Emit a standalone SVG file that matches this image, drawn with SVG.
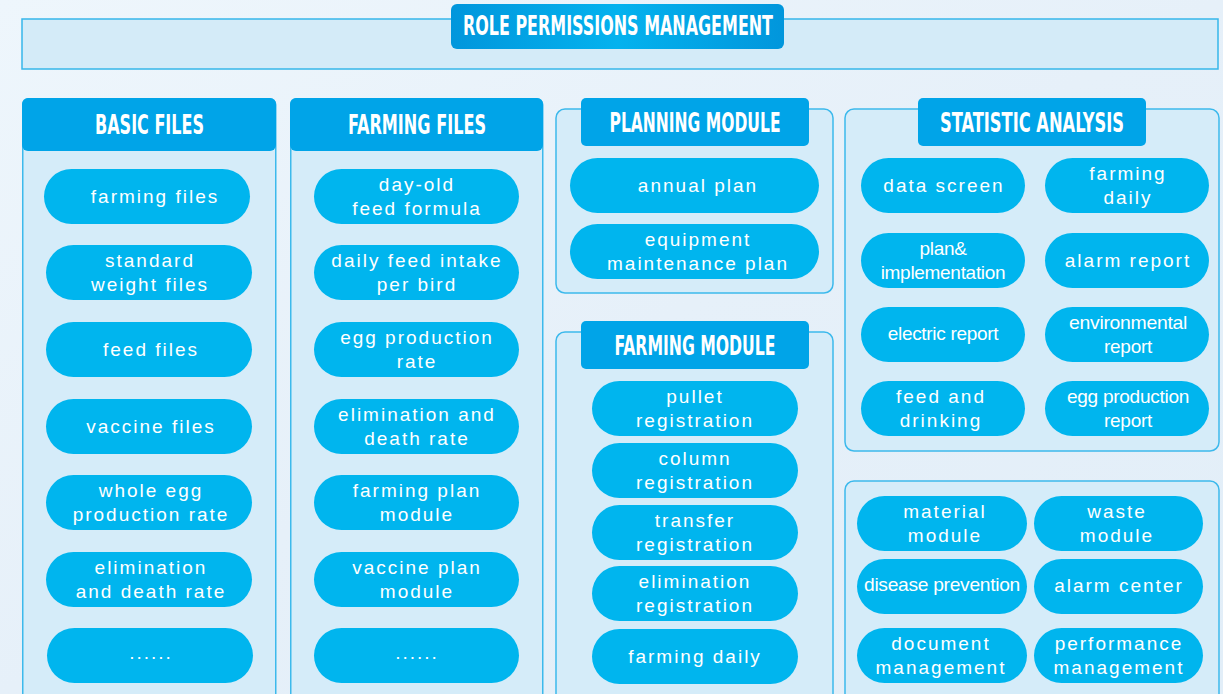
<svg xmlns="http://www.w3.org/2000/svg" width="1223" height="694" viewBox="0 0 1223 694">
<defs>
<linearGradient id="bg" x1="0" y1="0" x2="1" y2="1">
<stop offset="0" stop-color="#eef6fc"/>
<stop offset="0.5" stop-color="#e6f0f9"/>
<stop offset="1" stop-color="#e2eef8"/>
</linearGradient>
<linearGradient id="tabg" x1="0" y1="0" x2="1" y2="0">
<stop offset="0" stop-color="#0196dc"/>
<stop offset="0.5" stop-color="#04b2ee"/>
<stop offset="1" stop-color="#0196dc"/>
</linearGradient>
<style>
.box{fill:#d5ecf9;stroke:#3cb9ec;stroke-width:1.5}
.tab{fill:#00a4e8}
.pill{fill:#00b5ee}
.h{font-family:'DejaVu Sans Condensed','DejaVu Sans',sans-serif;font-weight:bold;font-size:26px;fill:#fff;text-anchor:middle}
.t{font-family:'Liberation Sans',Arial,sans-serif;font-size:19px;fill:#fff;text-anchor:middle;letter-spacing:2px}
.tc{letter-spacing:-0.3px}
</style>
</defs>
<rect x="0" y="0" width="1223" height="694" fill="url(#bg)"/>

<g id="title">
<rect x="22" y="19" width="1196" height="50" fill="#d4ebf8" stroke="#36b7ea" stroke-width="1.5"/>
<rect x="451" y="4" width="333" height="45" rx="6" fill="url(#tabg)"/>
<text class="h" x="618" y="35" font-size="24" textLength="310" lengthAdjust="spacingAndGlyphs">ROLE PERMISSIONS MANAGEMENT</text>
</g>

<g id="basic-files">
<rect class="box" x="22.75" y="98.75" width="253" height="640" rx="6"/>
<rect class="tab" x="22" y="98" width="254" height="53" rx="6"/>
<text class="h" x="149.5" y="134" textLength="109" lengthAdjust="spacingAndGlyphs">BASIC FILES</text>
<g id="bf1"><rect class="pill" x="44" y="169" width="206" height="55" rx="27.5"/><text class="t" x="155" y="202.5">farming files</text></g>
<g id="bf2"><rect class="pill" x="46" y="245" width="206" height="55" rx="27.5"/><text class="t" x="150" y="266.5">standard</text><text class="t" x="150" y="290.5">weight files</text></g>
<g id="bf3"><rect class="pill" x="46" y="322" width="206" height="55" rx="27.5"/><text class="t" x="151" y="355.5">feed files</text></g>
<g id="bf4"><rect class="pill" x="46" y="399" width="206" height="55" rx="27.5"/><text class="t" x="151" y="432.5">vaccine files</text></g>
<g id="bf5"><rect class="pill" x="46" y="475" width="206" height="55" rx="27.5"/><text class="t" x="151" y="496.5">whole egg</text><text class="t" x="151" y="520.5">production rate</text></g>
<g id="bf6"><rect class="pill" x="46" y="552" width="206" height="55" rx="27.5"/><text class="t" x="151" y="573.5">elimination</text><text class="t" x="151" y="597.5">and death rate</text></g>
<g id="bf7"><rect class="pill" x="47" y="628" width="206" height="55" rx="27.5"/><text class="t" x="151" y="659">......</text></g>
</g>

<g id="farming-files">
<rect class="box" x="290.75" y="98.75" width="252" height="640" rx="6"/>
<rect class="tab" x="290" y="98" width="253" height="53" rx="6"/>
<text class="h" x="417" y="134" textLength="138" lengthAdjust="spacingAndGlyphs">FARMING FILES</text>
<g id="ff1"><rect class="pill" x="314" y="169" width="205" height="55" rx="27.5"/><text class="t" x="417" y="190.5">day-old</text><text class="t" x="417" y="214.5">feed formula</text></g>
<g id="ff2"><rect class="pill" x="314" y="245" width="205" height="55" rx="27.5"/><text class="t" x="417" y="266.5">daily feed intake</text><text class="t" x="417" y="290.5">per bird</text></g>
<g id="ff3"><rect class="pill" x="314" y="322" width="205" height="55" rx="27.5"/><text class="t" x="417" y="343.5">egg production</text><text class="t" x="417" y="367.5">rate</text></g>
<g id="ff4"><rect class="pill" x="314" y="399" width="205" height="55" rx="27.5"/><text class="t" x="417" y="420.5">elimination and</text><text class="t" x="417" y="444.5">death rate</text></g>
<g id="ff5"><rect class="pill" x="314" y="475" width="205" height="55" rx="27.5"/><text class="t" x="417" y="496.5">farming plan</text><text class="t" x="417" y="520.5">module</text></g>
<g id="ff6"><rect class="pill" x="314" y="552" width="205" height="55" rx="27.5"/><text class="t" x="417" y="573.5">vaccine plan</text><text class="t" x="417" y="597.5">module</text></g>
<g id="ff7"><rect class="pill" x="314" y="628" width="205" height="55" rx="27.5"/><text class="t" x="417" y="659">......</text></g>
</g>

<g id="planning-module">
<rect class="box" x="556" y="109" width="277" height="184" rx="9"/>
<rect class="tab" x="581" y="98" width="228" height="48" rx="5"/>
<text class="h" x="695" y="132" textLength="171" lengthAdjust="spacingAndGlyphs">PLANNING MODULE</text>
<g id="pm1"><rect class="pill" x="570" y="158" width="249" height="55" rx="27.5"/><text class="t" x="698" y="192">annual plan</text></g>
<g id="pm2"><rect class="pill" x="570" y="224" width="249" height="55" rx="27.5"/><text class="t" x="698" y="245.5">equipment</text><text class="t" x="698" y="269.5">maintenance plan</text></g>
</g>

<g id="farming-module">
<rect class="box" x="556" y="332" width="277" height="420" rx="9"/>
<rect class="tab" x="581" y="321" width="228" height="48" rx="5"/>
<text class="h" x="695" y="355" textLength="161" lengthAdjust="spacingAndGlyphs">FARMING MODULE</text>
<g id="fm1"><rect class="pill" x="592" y="381" width="206" height="55" rx="27.5"/><text class="t" x="695" y="402.5">pullet</text><text class="t" x="695" y="426.5">registration</text></g>
<g id="fm2"><rect class="pill" x="592" y="443" width="206" height="55" rx="27.5"/><text class="t" x="695" y="464.5">column</text><text class="t" x="695" y="488.5">registration</text></g>
<g id="fm3"><rect class="pill" x="592" y="505" width="206" height="55" rx="27.5"/><text class="t" x="695" y="526.5">transfer</text><text class="t" x="695" y="550.5">registration</text></g>
<g id="fm4"><rect class="pill" x="592" y="566" width="206" height="55" rx="27.5"/><text class="t" x="695" y="587.5">elimination</text><text class="t" x="695" y="611.5">registration</text></g>
<g id="fm5"><rect class="pill" x="592" y="629" width="206" height="55" rx="27.5"/><text class="t" x="695" y="662.5">farming daily</text></g>
</g>

<g id="statistic-analysis">
<rect class="box" x="845" y="109" width="374" height="342" rx="9"/>
<rect class="tab" x="918" y="98" width="228" height="48" rx="5"/>
<text class="h" x="1032" y="132" textLength="184" lengthAdjust="spacingAndGlyphs">STATISTIC ANALYSIS</text>
<g id="sa1"><rect class="pill" x="861" y="158" width="164" height="55" rx="27.5"/><text class="t" x="944" y="192">data screen</text></g>
<g id="sa2"><rect class="pill" x="1045" y="158" width="164" height="55" rx="27.5"/><text class="t" x="1128" y="179.5">farming</text><text class="t" x="1128" y="203.5">daily</text></g>
<g id="sa3"><rect class="pill" x="861" y="233" width="164" height="55" rx="27.5"/><text class="t tc" x="943" y="254.5">plan&amp;</text><text class="t tc" x="943" y="278.5">implementation</text></g>
<g id="sa4"><rect class="pill" x="1045" y="233" width="164" height="55" rx="27.5"/><text class="t" x="1128" y="266.5">alarm report</text></g>
<g id="sa5"><rect class="pill" x="861" y="307" width="164" height="55" rx="27.5"/><text class="t tc" x="943" y="340">electric report</text></g>
<g id="sa6"><rect class="pill" x="1045" y="307" width="164" height="55" rx="27.5"/><text class="t tc" x="1128" y="328.5" textLength="118" lengthAdjust="spacingAndGlyphs">environmental</text><text class="t tc" x="1128" y="352.5">report</text></g>
<g id="sa7"><rect class="pill" x="861" y="381" width="164" height="55" rx="27.5"/><text class="t" x="941" y="402.5">feed and</text><text class="t" x="941" y="426.5">drinking</text></g>
<g id="sa8"><rect class="pill" x="1045" y="381" width="164" height="55" rx="27.5"/><text class="t tc" x="1128" y="402.5" textLength="122" lengthAdjust="spacingAndGlyphs">egg production</text><text class="t tc" x="1128" y="426.5">report</text></g>
</g>

<g id="other-modules">
<rect class="box" x="845" y="481" width="374" height="260" rx="9"/>
<g id="om1"><rect class="pill" x="857" y="496" width="170" height="55" rx="27.5"/><text class="t" x="945" y="517.5">material</text><text class="t" x="945" y="541.5">module</text></g>
<g id="om2"><rect class="pill" x="1034" y="496" width="169" height="55" rx="27.5"/><text class="t" x="1117" y="517.5">waste</text><text class="t" x="1117" y="541.5">module</text></g>
<g id="om3"><rect class="pill" x="857" y="559" width="170" height="55" rx="27.5"/><text class="t tc" x="942" y="591" textLength="156" lengthAdjust="spacingAndGlyphs">disease prevention</text></g>
<g id="om4"><rect class="pill" x="1034" y="559" width="169" height="55" rx="27.5"/><text class="t" x="1119" y="592">alarm center</text></g>
<g id="om5"><rect class="pill" x="857" y="628" width="170" height="55" rx="27.5"/><text class="t" x="941" y="649.5">document</text><text class="t" x="941" y="673.5">management</text></g>
<g id="om6"><rect class="pill" x="1034" y="628" width="169" height="55" rx="27.5"/><text class="t" x="1119" y="649.5">performance</text><text class="t" x="1119" y="673.5">management</text></g>
</g>

<g id="connectors"></g>
</svg>
